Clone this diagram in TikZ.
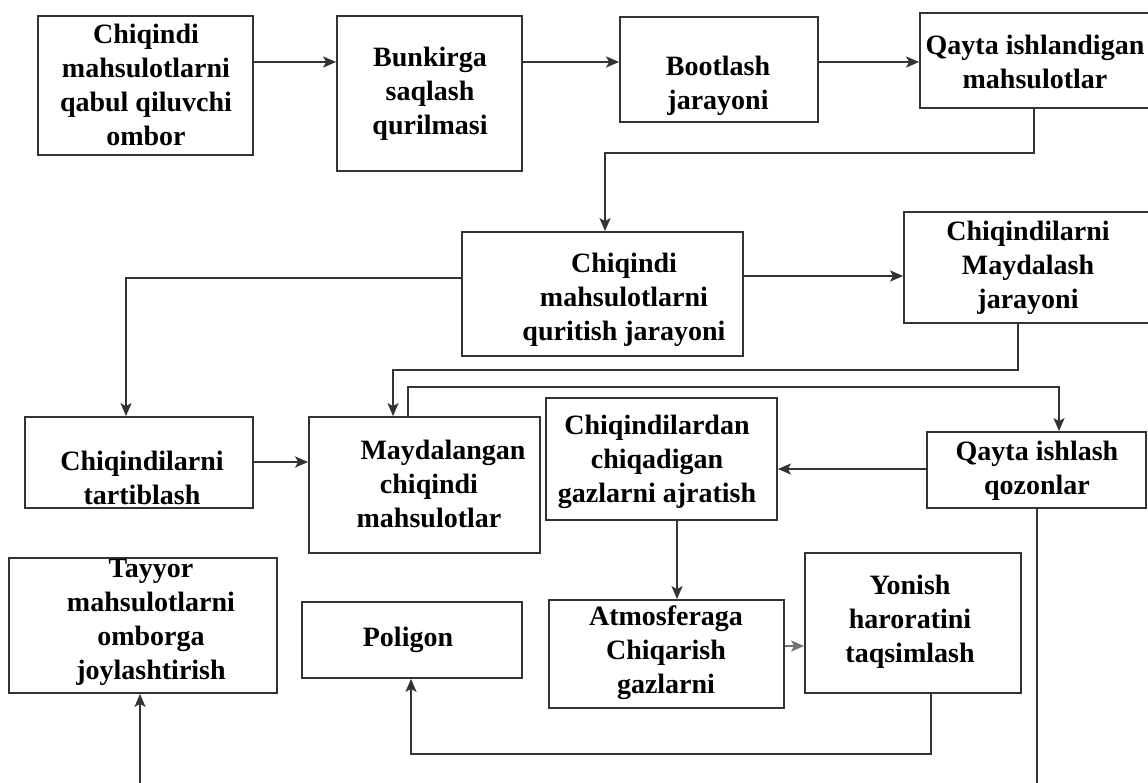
\documentclass[tikz,border=0pt]{standalone}
\usepackage{fontspec}
\setmainfont{Liberation Serif}
\usetikzlibrary{arrows.meta,fit}

\tikzset{
  blok/.style={draw=black!80, line width=1.8pt, inner sep=0pt},
  matn/.style={align=center, inner sep=0pt, font=\fontsize{28pt}{34pt}\selectfont\bfseries},
  chiz/.style={draw=black!80, line width=1.8pt},
  oq/.style={chiz, -{Stealth[length=13pt,width=11pt,inset=3pt]}}
}

\begin{document}
\begin{tikzpicture}[x=1pt,y=-1pt]
\useasboundingbox (0,0) rectangle (1148,783);
% bloklar
\node[blok, fit={(38,16) (253,155)}] (ombor) {};
\node[matn] (ombor-t) at (146,85) {Chiqindi\\mahsulotlarni\\qabul qiluvchi\\ombor};
\node[blok, fit={(337,16) (522,171)}] (bunker) {};
\node[matn] (bunker-t) at (430,94) {Bunkirga\\saqlash\\qurilmasi};
\node[blok, fit={(620,17) (818,122)}] (boot) {};
\node[matn] (boot-t) at (718,86) {Bootlash\\jarayoni};
\node[blok, fit={(920,13) (1160,108)}] (qayta) {};
\node[matn] (qayta-t) at (1035,62) {Qayta ishlandigan\\mahsulotlar};

\node[blok, fit={(462,232) (743,356)}] (qurit) {};
\node[matn] (qurit-t) at (624,300) {Chiqindi\\mahsulotlarni\\quritish jarayoni};
\node[blok, fit={(904,212) (1160,323)}] (mayda) {};
\node[matn] (mayda-t) at (1028,268) {Chiqindilarni\\Maydalash\\jarayoni};

\node[blok, fit={(25,417) (253,508)}] (tartib) {};
\node[matn] (tartib-t) at (142,478) {Chiqindilarni\\tartiblash};
\node[blok, fit={(309,417) (540,553)}] (maydalangan) {};
\node[matn] (maydalangan-t) at (429,484) {\hspace*{28pt}Maydalangan\\chiqindi\\mahsulotlar};
\node[blok, fit={(546,398) (777,520)}] (ajrat) {};
\node[matn] (ajrat-t) at (657,462) {Chiqindilardan\\chiqadigan\\gazlarni ajratish};
\node[blok, fit={(927,432) (1146,508)}] (qozon) {};
\node[matn] (qozon-t) at (1037,471) {Qayta ishlash\\qozonlar};

\node[blok, fit={(9,558) (277,693)}] (tayyor) {};
\node[matn] (tayyor-t) at (151,622) {Tayyor\\mahsulotlarni\\omborga\\joylashtirish};
\node[blok, fit={(302,602) (522,678)}] (poligon) {};
\node[matn] (poligon-t) at (408,640) {Poligon};
\node[blok, fit={(549,600) (784,708)}] (atmos) {};
\node[matn] (atmos-t) at (666,653) {Atmosferaga\\Chiqarish\\gazlarni};
\node[blok, fit={(805,553) (1021,693)}] (yonish) {};
\node[matn] (yonish-t) at (910,622) {Yonish\\haroratini\\taqsimlash};

\coordinate (past1) at (1037,783);
\coordinate (past2) at (140,783);

% ulanishlar
\draw[oq] (ombor.east |- 0,62) -- (bunker.west |- 0,62);
\draw[oq] (bunker.east |- 0,62) -- (boot.west |- 0,62);
\draw[oq] (boot.east |- 0,62) -- (qayta.west |- 0,62);
\draw[oq] (qayta.south -| 1034,0) -- (1034,153) -| (qurit.north -| 605,0);
\draw[oq] (qurit.east |- 0,276) -- (mayda.west |- 0,276);
\draw[oq] (qurit.west |- 0,278) -| (tartib.north -| 126,0);
\draw[oq] (tartib.east |- 0,462) -- (maydalangan.west |- 0,462);
\draw[oq] (mayda.south -| 1018,0) -- (1018,370) -| (maydalangan.north -| 393,0);
\draw[oq] (maydalangan.north -| 408,0) -- (408,387) -| (qozon.north -| 1059,0);
\draw[oq] (qozon.west |- 0,469) -- (ajrat.east |- 0,469);
\draw[oq] (ajrat.south -| 677,0) -- (atmos.north -| 677,0);
\draw[oq, draw=black!55] (atmos.east |- 0,646) -- (yonish.west |- 0,646);
\draw[oq] (yonish.south -| 931,0) -- (931,754) -| (poligon.south -| 411,0);
\draw[chiz] (qozon.south -| past1) -- (past1);
\draw[oq] (past2) -- (tayyor.south -| past2);
\end{tikzpicture}
\end{document}
